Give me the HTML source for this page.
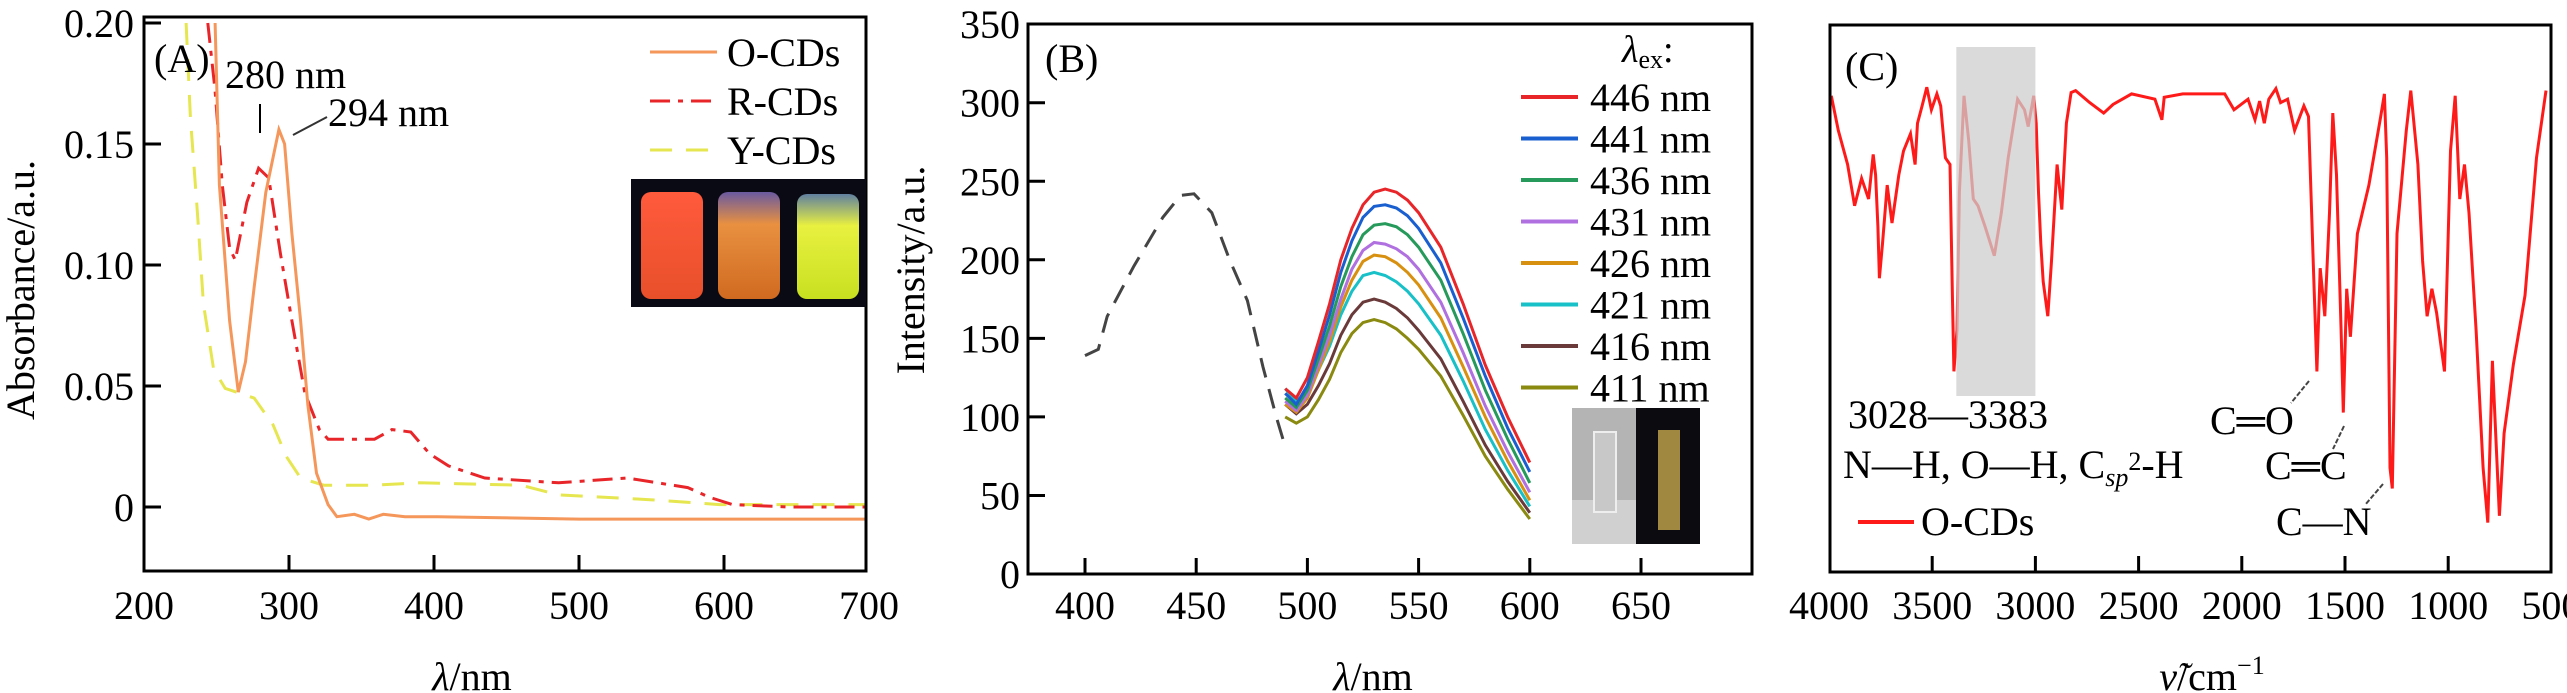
<!DOCTYPE html>
<html><head><meta charset="utf-8"><style>
html,body{margin:0;padding:0;background:#fff;}
svg{display:block;font-family:"Liberation Serif",serif;}
</style></head><body>
<svg id="fig" width="2567" height="693" viewBox="0 0 2567 693" xmlns="http://www.w3.org/2000/svg">
<defs>
<linearGradient id="vialR" x1="0" y1="0" x2="0" y2="1"><stop offset="0" stop-color="#ff5a3c"/><stop offset="1" stop-color="#e8502a"/></linearGradient>
<linearGradient id="vialO" x1="0" y1="0" x2="0" y2="1"><stop offset="0" stop-color="#6a5aa0"/><stop offset="0.3" stop-color="#e89040"/><stop offset="1" stop-color="#d06a20"/></linearGradient>
<linearGradient id="vialY" x1="0" y1="0" x2="0" y2="1"><stop offset="0" stop-color="#6080a0"/><stop offset="0.3" stop-color="#e8f040"/><stop offset="1" stop-color="#c8e020"/></linearGradient>
</defs>
<g id="panelA"></g>
<g id="panelB"></g>
<g id="panelC"></g>
</svg>
<script>
// ---------- Panel A data ----------
const aO_x=[249,252,259,265,270,276,284,293,297,302,308,313,319,327,333,345,355,365,380,403,500,600,700];
const aO_y=[0.2,0.133,0.077,0.0475,0.06,0.091,0.13,0.156,0.15,0.113,0.077,0.042,0.014,0.001,-0.004,-0.003,-0.005,-0.003,-0.004,-0.004,-0.005,-0.005,-0.005];
const aR_x=[244,249,254,259,263,271,279,286,294,302,311,321,327,359,371,384,397,410,435,486,533,575,590,606,645,700];
const aR_y=[0.2,0.172,0.133,0.107,0.102,0.126,0.14,0.136,0.105,0.077,0.047,0.032,0.028,0.028,0.032,0.031,0.022,0.017,0.012,0.010,0.012,0.008,0.004,0.001,0.0,0.0];
const aY_x=[229,232,237,241,248,256,276,289,298,308,324,359,390,460,486,549,597,700];
const aY_y=[0.2,0.161,0.12,0.084,0.057,0.049,0.045,0.034,0.021,0.012,0.009,0.009,0.010,0.009,0.005,0.003,0.001,0.001];
const aXTicks=[200,300,400,500,600,700];
const aYTicks=[0,0.05,0.10,0.15,0.20];
const aYLabels=["0","0.05","0.10","0.15","0.20"];
const aLegend=["O-CDs","R-CDs","Y-CDs"];
// ---------- Panel B data ----------
const bExc_x=[400,406,410,422,435,443,449,457,465,473,480,486,489];
const bExc_y=[139,143,164,196,227,241,242,230,200,174,132,100,86];
const bEm_x=[490,495,500,505,510,515,520,525,530,535,540,545,550,560,570,580,590,600];
const bEm446=[118,112,125,148,172,200,220,235,243,245,243,238,230,208,172,133,100,71];
const bEm441=[115,108,120,142,165,192,212,227,234,235,233,228,220,198,163,126,93,65];
const bEm436=[112,106,117,137,158,183,202,216,222,223,221,216,208,187,153,117,86,58];
const bEm431=[110,104,114,133,152,175,194,206,211,210,207,202,194,173,141,107,78,52];
const bEm426=[108,103,112,130,148,170,187,199,203,202,198,192,184,163,132,100,72,47];
const bEm421=[118,110,116,130,145,165,180,190,192,190,186,180,172,152,123,92,66,43];
const bEm416=[108,102,108,120,134,152,165,173,175,173,169,163,155,137,110,82,59,39];
const bEm411=[100,96,100,111,124,141,153,160,162,160,156,150,143,126,101,75,54,35];
const bLabels=["446 nm","441 nm","436 nm","431 nm","426 nm","421 nm","416 nm","411 nm"];
const bColors=["#e8262a","#1a5fd0","#259a5a","#b070e0","#d89010","#18c0c8","#6a3a3a","#8a8a10"];
const bXTicks=[400,450,500,550,600,650];
const bYTicks=[0,50,100,150,200,250,300,350];
// ---------- Panel C data ----------
const cWn=[3989,3955,3910,3876,3842,3808,3786,3774,3763,3756,3741,3718,3695,3662,3639,3605,3583,3571,3549,3526,3504,3477,3459,3436,3414,3402,3395,3380,3368,3346,3323,3301,3278,3244,3199,3165,3132,3086,3053,3035,3008,2996,2985,2974,2962,2940,2922,2895,2872,2850,2827,2805,2737,2669,2624,2534,2421,2387,2376,2286,2196,2083,2038,1970,1936,1914,1891,1869,1835,1812,1778,1744,1699,1677,1654,1636,1620,1598,1575,1559,1541,1519,1508,1492,1474,1440,1384,1327,1309,1298,1282,1271,1248,1203,1181,1147,1124,1102,1079,1056,1034,1018,989,966,944,921,899,865,831,808,786,752,729,684,628,572,526];
const cT=[96.7,89.5,82.4,73.8,79.5,75.2,84.5,80.2,69.5,58.7,65.9,78.1,70.2,80.2,85.2,88.8,82.4,91.0,94.6,98.5,93.8,97.1,94.6,83.8,82.4,55.1,39.3,47.9,76.6,96.7,87.4,75.2,73.8,69.5,63.4,72.3,83.8,96.0,93.8,90.3,96.7,91.0,76.6,65.9,58.0,50.8,62.3,82.4,73.0,91.0,97.4,97.8,95.3,93.1,94.9,97.1,96.0,91.7,96.4,97.1,97.1,97.1,93.8,96.0,91.7,95.6,91.0,96.0,98.2,95.3,96.0,89.5,94.6,92.4,62.3,39.3,60.8,50.8,72.3,93.1,80.2,47.9,30.7,56.5,46.5,68.0,78.1,92.4,97.1,83.8,19.2,14.9,68.0,89.5,97.8,82.4,62.3,50.8,56.5,51.5,44.3,39.3,85.2,96.7,75.2,82.4,72.3,47.9,19.2,7.8,41.5,9.2,26.4,40.8,55.1,83.8,97.8];
const cXTicks=[4000,3500,3000,2500,2000,1500,1000,500];

const NS="http://www.w3.org/2000/svg";
function mk(parent,tag,attrs,text){const e=document.createElementNS(NS,tag);for(const k in attrs)e.setAttribute(k,attrs[k]);if(text!==undefined)e.textContent=text;parent.appendChild(e);return e;}
function pathFrom(xs,ys,fx,fy){let d="";for(let i=0;i<xs.length;i++){d+=(i?"L":"M")+fx(xs[i]).toFixed(1)+","+fy(ys[i]).toFixed(1);}return d;}

// ================= PANEL A =================
(function(){
const g=document.getElementById('panelA');
const L=144,R=866,T=17,B=571;
const ax=v=>144+(v-200)*1.45;
const ay=v=>507-v*2420;
const clip=mk(g,'clipPath',{id:'clipA'});mk(clip,'rect',{x:L,y:T,width:R-L,height:B-T});
let e;
e=mk(g,'text',{x:0,y:0,'font-size':40,'text-anchor':'middle',transform:'translate(34,290) rotate(-90)'},'Absorbance/a.u.');

aYTicks.forEach((t,i)=>{
 e=mk(g,'line',{x1:L,x2:L+17,y1:ay(t),y2:ay(t),stroke:'#000','stroke-width':3});
 
 e=mk(g,'text',{x:134,y:ay(t)+14,'font-size':40,'text-anchor':'end'},aYLabels[i]);
 
});
aXTicks.forEach(t=>{
 if(t>200&&t<700){e=mk(g,'line',{x1:ax(t),x2:ax(t),y1:B,y2:B-16,stroke:'#000','stroke-width':3});
 }
 e=mk(g,'text',{x:ax(t),y:619,'font-size':40,'text-anchor':'middle'},String(t));
 
});
e=mk(g,'text',{x:472,y:690,'font-size':40,'text-anchor':'middle'});
e.innerHTML='<tspan font-style="italic">λ</tspan>/nm';

const pg=mk(g,'g',{'clip-path':'url(#clipA)'});
e=mk(pg,'path',{d:pathFrom(aY_x,aY_y,ax,ay),fill:'none',stroke:'#e6e650','stroke-width':3,'stroke-dasharray':'22,14'});

e=mk(pg,'path',{d:pathFrom(aR_x,aR_y,ax,ay),fill:'none',stroke:'#e8262a','stroke-width':3,'stroke-dasharray':'20,8,5,8'});

e=mk(pg,'path',{d:pathFrom(aO_x,aO_y,ax,ay),fill:'none',stroke:'#f5965a','stroke-width':3});

e=mk(g,'rect',{x:L,y:T,width:R-L,height:B-T,fill:'none',stroke:'#000','stroke-width':3});

// annotations
e=mk(g,'text',{x:154,y:72,'font-size':40},'(A)');
e=mk(g,'text',{x:225,y:88,'font-size':40},'280 nm');
e=mk(g,'line',{x1:260,x2:260,y1:104,y2:133,stroke:'#000','stroke-width':2});
e=mk(g,'text',{x:328,y:126,'font-size':40},'294 nm');
e=mk(g,'line',{x1:293,x2:327,y1:135,y2:117,stroke:'#333','stroke-width':2});
// legend
const lg=mk(g,'g',{});
const styles=[{stroke:'#f5965a'},{stroke:'#e8262a','stroke-dasharray':'20,8,5,8'},{stroke:'#e6e650','stroke-dasharray':'22,14'}];
aLegend.forEach((t,i)=>{const yy=52+i*49;
 e=mk(lg,'line',Object.assign({x1:650,x2:717,y1:yy,y2:yy,'stroke-width':3},styles[i]));
 
 e=mk(lg,'text',{x:727,y:yy+14,'font-size':40},t);
 
});
// inset photo
const ph=mk(g,'g',{});
mk(ph,'rect',{x:631,y:179,width:235,height:128,fill:'#0a0a14'});
mk(ph,'rect',{x:641,y:192,width:62,height:107,rx:10,fill:'url(#vialR)'});
mk(ph,'rect',{x:718,y:192,width:62,height:107,rx:10,fill:'url(#vialO)'});
mk(ph,'rect',{x:797,y:194,width:62,height:105,rx:10,fill:'url(#vialY)'});
})();

// ================= PANEL B =================
(function(){
const g=document.getElementById('panelB');
const L=1028,R=1752,T=24,B=574;
const bx=v=>1085+(v-400)*2.224;
const by=v=>574-v*1.571;
let e;
e=mk(g,'text',{x:0,y:0,'font-size':40,'text-anchor':'middle',transform:'translate(924,270) rotate(-90)'},'Intensity/a.u.');

bYTicks.forEach(t=>{
 if(t>0&&t<350){e=mk(g,'line',{x1:L,x2:L+17,y1:by(t),y2:by(t),stroke:'#000','stroke-width':3});
 }
 e=mk(g,'text',{x:1020,y:by(t)+14,'font-size':40,'text-anchor':'end'},String(t));
 
});
bXTicks.forEach(t=>{
 e=mk(g,'line',{x1:bx(t),x2:bx(t),y1:B,y2:B-16,stroke:'#000','stroke-width':3});
 
 e=mk(g,'text',{x:bx(t),y:619,'font-size':40,'text-anchor':'middle'},String(t));
 
});
e=mk(g,'text',{x:1373,y:690,'font-size':40,'text-anchor':'middle'});
e.innerHTML='<tspan font-style="italic">λ</tspan>/nm';

e=mk(g,'path',{d:pathFrom(bExc_x,bExc_y,bx,by),fill:'none',stroke:'#444','stroke-width':3,'stroke-dasharray':'20,12'});

const series=[bEm411,bEm416,bEm421,bEm426,bEm431,bEm436,bEm441,bEm446];
const names=['em-411','em-416','em-421','em-426','em-431','em-436','em-441','em-446'];
series.forEach((s,i)=>{const ci=7-i;
 e=mk(g,'path',{d:pathFrom(bEm_x,s,bx,by),fill:'none',stroke:bColors[ci],'stroke-width':3});
 
});
e=mk(g,'rect',{x:L,y:T,width:R-L,height:B-T,fill:'none',stroke:'#000','stroke-width':3});

e=mk(g,'text',{x:1045,y:72,'font-size':40},'(B)');
const lg=mk(g,'g',{});
e=mk(lg,'text',{x:1622,y:62,'font-size':38});
e.innerHTML='<tspan font-style="italic">λ</tspan><tspan font-size="26" dy="6">ex</tspan><tspan dy="-6">:</tspan>';

bLabels.forEach((t,i)=>{const yy=97+i*41.5;
 e=mk(lg,'line',{x1:1521,x2:1578,y1:yy,y2:yy,stroke:bColors[i],'stroke-width':4});
 
 e=mk(lg,'text',{x:1590,y:yy+14,'font-size':40},t);
 
});
const ph=mk(g,'g',{});
mk(ph,'rect',{x:1572,y:408,width:64,height:136,fill:'#b4b4b4'});
mk(ph,'rect',{x:1572,y:500,width:64,height:44,fill:'#d0d0d0'});
mk(ph,'rect',{x:1594,y:432,width:22,height:80,fill:'#c8c8c8',stroke:'#eee','stroke-width':2});
mk(ph,'rect',{x:1636,y:408,width:64,height:136,fill:'#0c0c10'});
mk(ph,'rect',{x:1658,y:430,width:22,height:100,fill:'#a08840'});
})();

// ================= PANEL C =================
(function(){
const g=document.getElementById('panelC');
const L=1830,R=2551,T=25,B=572;
const cx=v=>1829+(4000-v)*0.2064;
const cy=v=>560-v*4.8;
let e;
cXTicks.forEach(t=>{
 if(t<4000&&t>500){e=mk(g,'line',{x1:cx(t),x2:cx(t),y1:B,y2:B-16,stroke:'#000','stroke-width':3});
 }
 e=mk(g,'text',{x:cx(t),y:619,'font-size':40,'text-anchor':'middle'},String(t));
 
});
e=mk(g,'text',{x:2212,y:690,'font-size':40,'text-anchor':'middle'});
e.innerHTML='<tspan font-style="italic">ν̃</tspan>/cm<tspan font-size="26" dy="-16">−1</tspan>';

e=mk(g,'path',{d:pathFrom(cWn,cT,cx,cy),fill:'none',stroke:'#ff1a1a','stroke-width':3});

e=mk(g,'rect',{x:cx(3383),y:47,width:cx(3000)-cx(3383),height:349,fill:'rgb(205,205,205)','fill-opacity':0.75});

e=mk(g,'rect',{x:L,y:T,width:R-L,height:B-T,fill:'none',stroke:'#000','stroke-width':3});

e=mk(g,'text',{x:1845,y:80,'font-size':40},'(C)');
e=mk(g,'text',{x:1848,y:428,'font-size':40},'3028—3383');
e=mk(g,'text',{x:1843,y:478,'font-size':40});
e.innerHTML='N—H, O—H, C<tspan font-style="italic" font-size="26" dy="8">sp</tspan><tspan font-size="26" dy="-16">2</tspan><tspan dy="8">-H</tspan>';

e=mk(g,'line',{x1:1858,x2:1914,y1:522,y2:522,stroke:'#ff1a1a','stroke-width':4});

e=mk(g,'text',{x:1921,y:535,'font-size':40},'O-CDs');
e=mk(g,'text',{x:2210,y:434,'font-size':40},'C═O');
e=mk(g,'text',{x:2265,y:479,'font-size':40},'C═C');
e=mk(g,'text',{x:2276,y:535,'font-size':40},'C—N');
[[2309,381,2291,403],[2344,426,2333,449],[2383,484,2365,505]].forEach(l=>{
 e=mk(g,'line',{x1:l[0],y1:l[1],x2:l[2],y2:l[3],stroke:'#444','stroke-width':2,'stroke-dasharray':'5,2'});
 
});
})();
</script>
</body></html>
